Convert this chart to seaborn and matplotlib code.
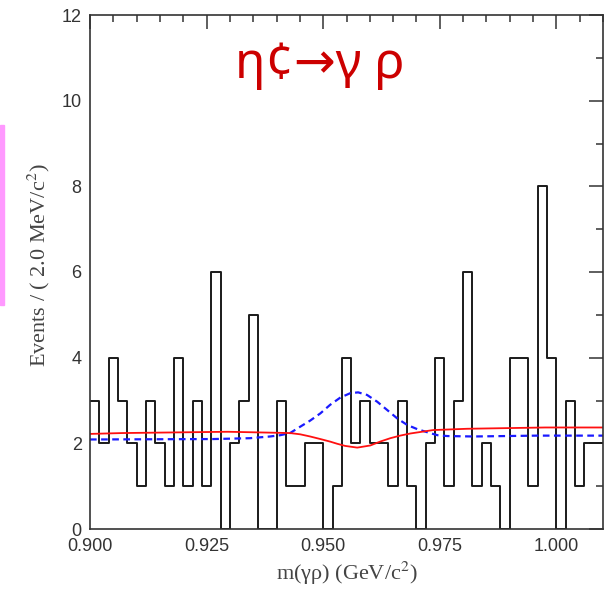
import numpy as np
import pandas as pd
import matplotlib
matplotlib.use("Agg")
import matplotlib.pyplot as plt
import seaborn as sns
from matplotlib.patches import Rectangle
from matplotlib.ticker import MultipleLocator, FormatStrFormatter

# ---- data -------------------------------------------------------------
bin_low = 0.900
bin_width = 0.002
counts = [3, 2, 4, 3, 2, 1, 3, 2, 1, 4,
          1, 3, 1, 6, 0, 2, 3, 5, 0, 0,
          3, 1, 1, 2, 2, 0, 1, 4, 2, 3,
          2, 2, 1, 3, 1, 0, 2, 4, 1, 3,
          6, 1, 2, 1, 0, 4, 4, 1, 8, 4,
          0, 3, 1, 2, 2]

blue_m = [0.9000, 0.9264, 0.9343, 0.9386, 0.9408, 0.9429, 0.9451, 0.9472,
          0.9494, 0.9515, 0.9537, 0.9558, 0.9575, 0.9594, 0.9616, 0.9637,
          0.9659, 0.9680, 0.9702, 0.9723, 0.9745, 0.9766, 0.9822, 0.9959,
          1.0100]
blue_y = [2.09, 2.10, 2.12, 2.16, 2.19, 2.24, 2.39, 2.53,
          2.70, 2.90, 3.07, 3.17, 3.19, 3.13, 2.97, 2.78,
          2.58, 2.43, 2.33, 2.26, 2.19, 2.17, 2.16, 2.18,
          2.18]

red_m = [0.9000, 0.9069, 0.9296, 0.9429, 0.9451, 0.9472, 0.9494, 0.9515,
         0.9530, 0.9547, 0.9573, 0.9601, 0.9622, 0.9644, 0.9665, 0.9687,
         0.9736, 0.9809, 0.9976, 1.0100]
red_y = [2.22, 2.24, 2.27, 2.24, 2.21, 2.16, 2.10, 2.04,
         1.99, 1.94, 1.90, 1.95, 2.04, 2.12, 2.18, 2.23,
         2.31, 2.34, 2.37, 2.37]

title_text = "η¢→γ ρ"
x_label = "m(γρ) (GeV/c$^2$)"
y_label = "Events / ( 2.0 MeV/c$^2$)"

# ---- figure -----------------------------------------------------------
sns.set_style("white")
plt.rcParams["font.family"] = ["Liberation Sans", "DejaVu Sans"]
plt.rcParams["mathtext.fontset"] = "stix"

fig = plt.figure(figsize=(6.05, 5.9), dpi=100)
ax = fig.add_axes([90 / 605, 61 / 590, 513 / 605, 514 / 590])

n = len(counts)
edges = [round(bin_low + bin_width * i, 4) for i in range(n + 1)]
centers = [(edges[i] + edges[i + 1]) / 2 for i in range(n)]
hist_df = pd.DataFrame({"m": centers, "n": counts})

sns.histplot(data=hist_df, x="m", weights="n", bins=edges, element="step",
             fill=False, color="#1a1a1a", linewidth=1.4, ax=ax)

sns.lineplot(x=blue_m, y=blue_y, sort=False, color="#1a1aff", linewidth=1.6,
             linestyle=(0, (3, 2)), ax=ax)
sns.lineplot(x=red_m, y=red_y, sort=False, color="#ff1010", linewidth=1.3, ax=ax)

ax.set_xlim(0.900, 1.010)
ax.set_ylim(0, 12)
ax.xaxis.set_major_locator(MultipleLocator(0.025))
ax.xaxis.set_minor_locator(MultipleLocator(0.005))
ax.xaxis.set_major_formatter(FormatStrFormatter("%.3f"))
ax.yaxis.set_major_locator(MultipleLocator(2))
ax.yaxis.set_minor_locator(MultipleLocator(1))
ax.tick_params(which="both", direction="in", top=True, right=True,
               colors="#333333", width=1.1, labelsize=13)
ax.tick_params(which="major", length=10)
ax.tick_params(which="minor", length=5)
ax.tick_params(axis="x", pad=6.5)
ax.tick_params(axis="y", pad=6)
for s in ax.spines.values():
    s.set_color("#333333")
    s.set_linewidth(1.2)
    s.set_visible(True)

ax.set_xlabel(x_label, family="Liberation Serif", fontsize=16, color="#444444",
              va="center")
ax.xaxis.set_label_coords(0.5, -0.086)
ax.set_ylabel(y_label, family="Liberation Serif", fontsize=16, color="#444444",
              va="center")
ax.yaxis.set_label_coords(-0.100, 0.514)

fig.text(320 / 605, 1 - 65 / 590, title_text, color="#cc0000", fontsize=36,
         family=["Noto Sans", "DejaVu Sans"], ha="center", va="center")

fig.patches.append(Rectangle((0, 1 - 305 / 590), 4 / 605, 180 / 590,
                             transform=fig.transFigure, color="#ff99ff",
                             zorder=0))

fig.savefig("out.png", dpi=100)
